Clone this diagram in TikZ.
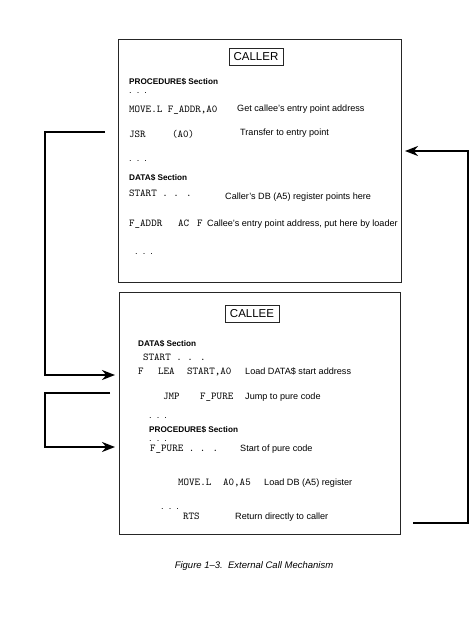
\documentclass[tikz,border=0pt]{standalone}
\usepackage{fontspec}
\setsansfont{Liberation Sans}
\usetikzlibrary{arrows.meta}
\tikzset{
  panel/.style={draw=black!85, line width=0.9pt, inner sep=0pt},
  tagbox/.style={draw=black!85, line width=0.9pt, inner sep=0pt, minimum width=54pt, minimum height=17pt, font=\sffamily\fontsize{11.5}{13}\selectfont},
  code/.style={anchor=base west, inner sep=0pt, font=\ttfamily\fontsize{10.5}{12}\selectfont},
  note/.style={anchor=base west, inner sep=0pt, font=\sffamily\fontsize{9.1}{10}\selectfont},
  sect/.style={anchor=base west, inner sep=0pt, font=\sffamily\bfseries\fontsize{8.2}{10}\selectfont},
  flow/.style={line width=2.2pt, -{Stealth[length=13pt,width=10pt]}},
}
\begin{document}
\begin{tikzpicture}[x=1pt, y=-1pt]
  \useasboundingbox (0,0) rectangle (469,629);
  % The two program sections
  \node[panel, minimum width=283pt, minimum height=243pt] (caller) at (259.5,160.5) {};
  \node[panel, minimum width=281pt, minimum height=242pt] (callee) at (259.5,413) {};
  \node[tagbox] (callertag) at (256,56.5) {CALLER};
  \node[tagbox] (calleetag) at (252,314) {CALLEE};
  % Caller listing
  \node[sect] (callproc) at (129,84) {PROCEDURE\$ Section};
  \node[note] (calldots1) at (129,93) {.\ \ .\ \ .};
  \node[code] (move) at (129,112) {MOVE.L F\_ADDR,A0};
  \node[note] (movenote) at (237,111) {Get callee's entry point address};
  \node[code] (jsr) at (129,137) {JSR};
  \node[code] (jsrarg) at (172,137) {(A0)};
  \node[note] (jsrnote) at (240,135) {Transfer to entry point};
  \node[note] (calldots2) at (129,161) {.\ \ .\ \ .};
  \node[sect] (calldata) at (129,180) {DATA\$ Section};
  \node[code] (start) at (129,196) {START . . .};
  \node[note] (startnote) at (225,199) {Caller's DB (A5) register points here};
  \node[code] (faddr) at (129,226) {F\_ADDR};
  \node[code] (ac) at (178,226) {AC};
  \node[code] (acarg) at (197,226) {F};
  \node[note] (faddrnote) at (207,226) {Callee's entry point address, put here by loader};
  \node[note] (calldots3) at (135,254) {.\ \ .\ \ .};
  % Callee listing
  \node[sect] (calleedata) at (138,346) {DATA\$ Section};
  \node[code] (cstart) at (143,360) {START . . .};
  \node[code] (entry) at (138,374) {F};
  \node[code] (lea) at (158,374) {LEA};
  \node[code] (leaarg) at (187,374) {START,A0};
  \node[note] (leanote) at (245,374) {Load DATA\$ start address};
  \node[code] (jmp) at (163,399) {JMP};
  \node[code] (jmparg) at (200,399) {F\_PURE};
  \node[note] (jmpnote) at (245,399) {Jump to pure code};
  \node[note] (cdots1) at (149,418) {.\ \ .\ \ .};
  \node[sect] (calleeproc) at (149,432) {PROCEDURE\$ Section};
  \node[note] (cdots2) at (149,441) {.\ \ .\ \ .};
  \node[code] (pure) at (150,451) {F\_PURE . . .};
  \node[note] (purenote) at (240,451) {Start of pure code};
  \node[code] (cmove) at (178,485) {MOVE.L};
  \node[code] (cmovearg) at (223,485) {A0,A5};
  \node[note] (cmovenote) at (264,485) {Load DB (A5) register};
  \node[note] (cdots3) at (161,509) {.\ \ .\ \ .};
  \node[code] (rts) at (183,519) {RTS};
  \node[note] (rtsnote) at (235,519) {Return directly to caller};
  % Control transfers
  \coordinate (railL) at (45,0);
  \coordinate (railR) at (468,0);
  \coordinate (calltail) at (105,132);
  \coordinate (callhead) at (115,375);
  \coordinate (jmptail) at (110,393);
  \coordinate (jmphead) at (115,447);
  \coordinate (rettail) at (413,523);
  \coordinate (rethead) at (405,151);
  \draw[flow] (calltail) -- (calltail -| railL) |- (callhead);
  \draw[flow] (jmptail) -- (jmptail -| railL) |- (jmphead);
  \draw[flow] (rettail) -- (rettail -| railR) |- (rethead);
  \node[font=\sffamily\itshape\fontsize{9.5}{11}\selectfont] (caption) at (254,566) {Figure 1--3.\ \ External Call Mechanism};
\end{tikzpicture}
\end{document}
